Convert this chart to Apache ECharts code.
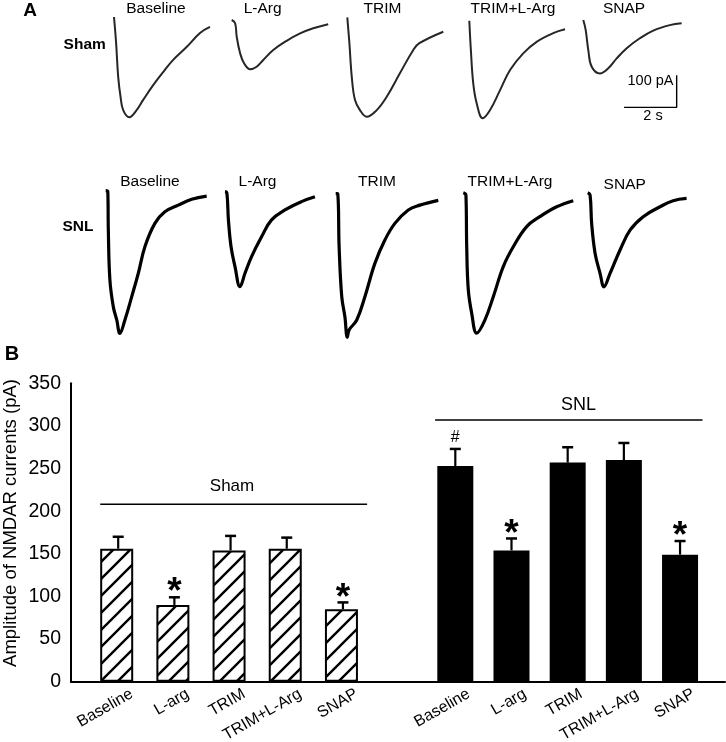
<!DOCTYPE html>
<html>
<head>
<meta charset="utf-8">
<script src="https://cdn.jsdelivr.net/npm/echarts@6.0.0/dist/echarts.min.js"></script>
<style>
  html, body { margin: 0; padding: 0; background: #fff; }
  #chart { width: 726px; height: 742px; }
</style>
</head>
<body>
<div id="chart"></div>
<script>
// ---- panel B: NMDAR current amplitude (pA), mean and SEM ----
const groupLabels = ['Baseline', 'L-arg', 'TRIM', 'TRIM+L-Arg', 'SNAP']
const shamMeans = [156, 90, 154, 156, 85]
const shamErrors = [14, 9, 17, 13, 8]
const snlMeans = [253, 154, 257, 260, 149]
const snlErrors = [20, 14, 18, 20, 16]
const shamMarks = ['', '*', '', '', '*']
const snlMarks = ['#', '*', '', '', '*']

// ---- panel A: current traces, [time (s), current (pA)] ----
const traceLabels = ['Baseline', 'L-Arg', 'TRIM', 'TRIM+L-Arg', 'SNAP']
const shamBaseline = [[0, 0], [0.08, -81], [0.16, -188], [0.25, -250], [0.35, -291], [0.58, -313], [0.86, -291], [1.11, -259], [1.49, -213], [1.87, -172], [2.25, -134], [2.76, -94], [3.27, -50], [3.65, -31]]
const shamLArg = [[0, 0], [0.13, -10], [0.19, -52], [0.32, -104], [0.47, -135], [0.70, -154], [0.95, -146], [1.20, -125], [1.58, -94], [2.09, -65], [2.60, -42], [3.10, -26], [3.67, -13]]
const shamTrim = [[0, 0], [0.08, -81], [0.17, -186], [0.29, -258], [0.48, -290], [0.74, -311], [1.12, -290], [1.50, -248], [2.00, -175], [2.51, -102], [2.74, -81], [3.65, -45]]
const shamTrimLArg = [[0, 0], [0.06, -92], [0.15, -196], [0.28, -258], [0.51, -305], [0.79, -279], [1.17, -217], [1.55, -154], [2.05, -102], [2.56, -66], [3.19, -39], [3.64, -27]]
const shamSnap = [[0, 0], [0.09, -31], [0.19, -94], [0.32, -146], [0.63, -167], [0.95, -151], [1.27, -120], [1.65, -88], [2.15, -57], [2.66, -33], [3.29, -16], [3.74, -10]]
const snlBaseline = [[0, 0], [0.08, -3], [0.10, -123], [0.16, -279], [0.29, -363], [0.42, -404], [0.54, -446], [0.73, -404], [0.99, -331], [1.24, -258], [1.49, -175], [1.87, -102], [2.25, -66], [2.76, -45], [3.27, -27], [3.84, -17]]
const snlLArg = [[0, 0], [0.07, -3], [0.13, -88], [0.23, -172], [0.38, -234], [0.57, -297], [0.76, -255], [1.01, -203], [1.39, -141], [1.77, -88], [2.28, -57], [2.91, -31], [3.42, -16]]
const snlTrim = [[0, 0], [0.08, -2], [0.13, -167], [0.23, -323], [0.35, -386], [0.44, -450], [0.51, -427], [0.80, -396], [1.11, -323], [1.49, -219], [1.87, -146], [2.25, -94], [2.76, -52], [3.20, -37], [3.90, -22]]
const snlTrimLArg = [[0, 0], [0.10, -7], [0.13, -169], [0.19, -304], [0.32, -377], [0.51, -439], [0.82, -398], [1.14, -325], [1.52, -231], [1.90, -169], [2.41, -106], [2.91, -75], [3.55, -44], [4.18, -25]]
const snlSnap = [[0, 0], [0.09, -7], [0.15, -96], [0.28, -189], [0.47, -252], [0.62, -294], [0.85, -252], [1.23, -179], [1.61, -117], [2.11, -75], [2.75, -44], [3.25, -25], [3.76, -18]]
// scale bar: 2 s and 100 pA
const scaleBar = [[1.55, -273], [3.55, -273], [3.55, -173]]

const FONT = '"Liberation Sans", Arial, sans-serif'
const chart = echarts.init(document.getElementById('chart'))

// trace layout (px): where each trace starts, and the px per unit
const pxPerSec = 26.3
const pxPerPA = 0.32
const shamOrigins = [[114, 17], [231.7, 20], [347.3, 17.3], [469.3, 20.7], [583.3, 20]]
const snlOrigins = [[105.7, 190.7], [225, 191.7], [335.7, 193.3], [463.3, 192.7], [587.7, 192.7]]

// diagonal hatch for sham bars
function makeHatch() {
  const s = 17
  const c = document.createElement('canvas')
  c.width = s
  c.height = s
  const g = c.getContext('2d')
  g.fillStyle = '#fff'
  g.fillRect(0, 0, s, s)
  g.strokeStyle = '#000'
  g.lineWidth = 2.4
  g.beginPath()
  g.moveTo(-3, s + 3); g.lineTo(s + 3, -3)
  g.moveTo(-3, 3); g.lineTo(3, -3)
  g.moveTo(s - 3, s + 3); g.lineTo(s + 3, s - 3)
  g.stroke()
  return c
}

const grids = []
const xAxes = []
const yAxes = []
const series = []

// bar grid (index 0)
const slotOffset = 6 // SNL group starts at slot 6
const labelShift = 0.24
grids.push({ left: 71, right: 1, top: 383.3, bottom: 60.3, outerBoundsMode: 'none', containLabel: false })
const labelValues = []
groupLabels.forEach((_, i) => labelValues.push(i + labelShift))
groupLabels.forEach((_, i) => labelValues.push(i + slotOffset + labelShift))
xAxes.push({
  gridIndex: 0, type: 'value', min: -0.84, max: 10.8,
  splitLine: { show: false },
  axisLine: { show: true, onZero: false, lineStyle: { color: '#000', width: 2 } },
  axisTick: { show: false },
  axisLabel: {
    customValues: labelValues,
    rotate: 30, margin: 11,
    fontFamily: FONT, fontSize: 16, color: '#000',
    formatter: v => groupLabels[Math.round(v - labelShift) % slotOffset]
  }
})
yAxes.push({
  gridIndex: 0, type: 'value', min: 0, max: 350, interval: 50,
  splitLine: { show: false },
  axisLine: { show: true, onZero: false, lineStyle: { color: '#000', width: 2 } },
  axisTick: { show: false },
  axisLabel: { fontFamily: FONT, fontSize: 19.5, color: '#000', margin: 10 }
})

series.push({
  type: 'bar', xAxisIndex: 0, yAxisIndex: 0, barWidth: 33, barGap: '-100%',
  itemStyle: { color: { image: makeHatch(), repeat: 'repeat' }, borderColor: '#000', borderWidth: 2 },
  data: shamMeans.map((v, i) => [i, v]),
  z: 2
})
series.push({
  type: 'bar', xAxisIndex: 0, yAxisIndex: 0, barWidth: 36, barGap: '-100%',
  itemStyle: { color: '#000' },
  data: snlMeans.map((v, i) => [i + slotOffset, v]),
  z: 2
})

function errorSeries(means, errors, marks, offset) {
  return {
    type: 'custom', xAxisIndex: 0, yAxisIndex: 0, z: 5,
    data: means.map((v, i) => [i + offset, v, errors[i]]),
    renderItem: (params, api) => {
      const x = api.value(0)
      const m = api.value(1)
      const e = api.value(2)
      const p0 = api.coord([x, m])
      const p1 = api.coord([x, m + e])
      const mark = marks[params.dataIndex]
      const children = [
        { type: 'line', shape: { x1: p0[0], y1: p0[1], x2: p1[0], y2: p1[1] }, style: { stroke: '#000', lineWidth: 2.2 } },
        { type: 'line', shape: { x1: p1[0] - 5.5, y1: p1[1], x2: p1[0] + 5.5, y2: p1[1] }, style: { stroke: '#000', lineWidth: 2.5 } }
      ]
      if (mark === '*') {
        children.push({ type: 'text', style: { text: '*', x: p1[0], y: p1[1] - 4, font: 'bold 37px ' + FONT, textAlign: 'center', textVerticalAlign: 'middle', fill: '#000' } })
      } else if (mark === '#') {
        children.push({ type: 'text', style: { text: '#', x: p1[0], y: p1[1] - 11, font: '16px ' + FONT, textAlign: 'center', textVerticalAlign: 'middle', fill: '#000' } })
      }
      return { type: 'group', children }
    }
  }
}
series.push(errorSeries(shamMeans, shamErrors, shamMarks, 0))
series.push(errorSeries(snlMeans, snlErrors, snlMarks, slotOffset))

// group brackets
series.push({
  type: 'line', xAxisIndex: 0, yAxisIndex: 0, symbol: 'none', silent: true,
  lineStyle: { color: '#000', width: 1.5 },
  data: [[-0.32, 208], [4.43, 208]]
})
series.push({
  type: 'line', xAxisIndex: 0, yAxisIndex: 0, symbol: 'none', silent: true,
  lineStyle: { color: '#000', width: 1.5 },
  data: [[5.64, 307], [10.4, 307]]
})

// trace grids
function addTrace(data, origin, color, width) {
  const idx = grids.length
  grids.push({ left: origin[0], top: origin[1], width: 4.5 * pxPerSec, height: 500 * pxPerPA, outerBoundsMode: 'none' })
  xAxes.push({ gridIndex: idx, type: 'value', min: 0, max: 4.5, show: false })
  yAxes.push({ gridIndex: idx, type: 'value', min: -500, max: 0, show: false })
  series.push({
    type: 'line', xAxisIndex: idx, yAxisIndex: idx, data, symbol: 'none',
    smooth: 0.4, silent: true,
    lineStyle: { color, width, join: 'round' }
  })
  return idx
}
const shamTraces = [shamBaseline, shamLArg, shamTrim, shamTrimLArg, shamSnap]
const snlTraces = [snlBaseline, snlLArg, snlTrim, snlTrimLArg, snlSnap]
let snapIdx = 0
shamTraces.forEach((d, i) => { snapIdx = addTrace(d, shamOrigins[i], '#262626', 2) })
snlTraces.forEach((d, i) => addTrace(d, snlOrigins[i], '#000', 3.2))
series.push({
  type: 'line', xAxisIndex: snapIdx, yAxisIndex: snapIdx, data: scaleBar, symbol: 'none', silent: true,
  lineStyle: { color: '#000', width: 1.4 }
})

// text labels
function label(text, x, y, size, bold, align, rotation) {
  return {
    type: 'text', x, y, rotation: rotation || 0, silent: true,
    style: {
      text, font: (bold ? 'bold ' : '') + size + 'px ' + FONT,
      textAlign: align || 'center', textVerticalAlign: 'middle', fill: '#000'
    }
  }
}
const row1X = [156, 262.7, 382.5, 513, 624]
const row2X = [150, 257.5, 377, 510, 624.7]
const graphics = [
  label('A', 30, 11, 19, true),
  label('B', 12, 354, 20, true),
  label('Sham', 84.7, 45, 15.5, true),
  label('SNL', 78, 227, 15.5, true),
  label('100 pA', 673.5, 81, 14.5, false, 'right'),
  label('2 s', 653, 116, 14.5),
  label('Sham', 232, 486, 17),
  label('SNL', 578.5, 405, 18),
  label('Amplitude of NMDAR currents (pA)', 10.5, 523, 18.5, false, 'center', Math.PI / 2)
]
traceLabels.forEach((t, i) => {
  graphics.push(label(t, row1X[i], 8.5, 15.5))
  graphics.push(label(t, row2X[i], i === 4 ? 184.5 : 182, 15.5))
})

chart.setOption({
  backgroundColor: '#fff',
  animation: false,
  grid: grids,
  xAxis: xAxes,
  yAxis: yAxes,
  series,
  graphic: graphics
})
</script>
</body>
</html>
